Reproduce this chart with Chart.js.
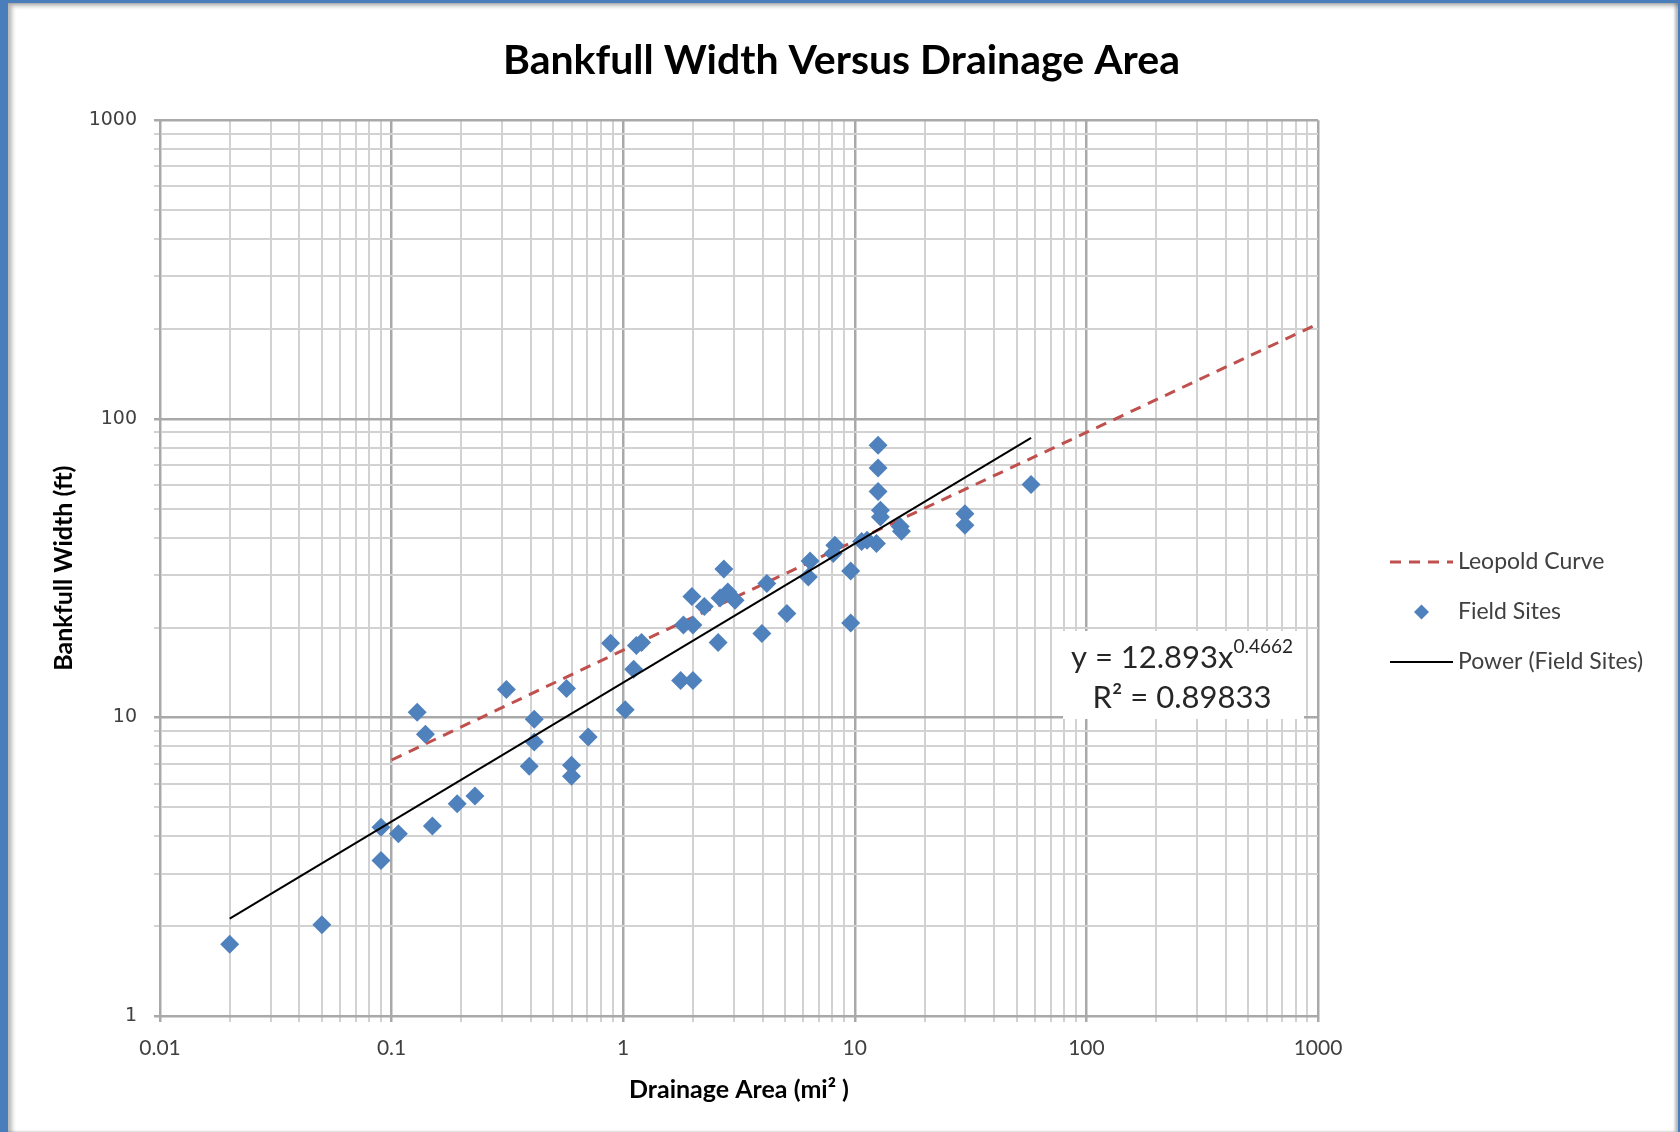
<!DOCTYPE html>
<html>
<head>
<meta charset="utf-8">
<title>Bankfull Width Versus Drainage Area</title>
<script src="https://cdn.jsdelivr.net/npm/chart.js@4.4.1/dist/chart.umd.min.js"></script>
<style>
  html, body { margin: 0; padding: 0; }
  body { width: 1680px; height: 1132px; background: #4a7ebb; position: relative; overflow: hidden; }
  .panel {
    position: absolute; left: 8px; top: 3px; width: 1670px; height: 1129px; background: #fff;
    box-shadow: inset 4px 3px 4px rgba(0, 0, 0, 0.28), inset -3px 0 3px rgba(0, 0, 0, 0.28);
  }
  .chart-box { position: absolute; left: 8px; top: 4px; width: 1667px; height: 1128px; }
</style>
</head>
<body>
<div class="panel"></div>
<div class="chart-box"><canvas id="bankfullChart"></canvas></div>
<script>
const xTickLabels = ['0.01', '0.1', '1', '10', '100', '1000'];
const yTickLabels = ['1', '10', '100', '1000'];

// field sites, drainage area (mi2) and bankfull width (ft)
const fieldArea = [0.02, 0.05, 0.09, 0.09, 0.107, 0.129, 0.14, 0.15, 0.192, 0.229,
    0.313, 0.413, 0.413, 0.393, 0.569, 0.598, 0.598, 0.706, 0.882, 1.02,
    1.11, 1.14, 1.2, 1.77, 2.0, 1.82, 2.0, 1.98, 2.24, 2.57,
    2.72, 2.62, 2.83, 3.04, 3.97, 4.17, 5.09, 6.3, 6.41, 8.07,
    8.2, 9.6, 9.6, 10.7, 11.3, 12.4, 12.6, 12.6, 12.6, 12.9,
    12.9, 15.7, 15.9, 29.9, 29.9, 57.7];
const fieldWidth = [1.74, 2.02, 4.29, 3.32, 4.08, 10.4, 8.78, 4.33, 5.14, 5.45,
    12.4, 9.85, 8.27, 6.86, 12.5, 6.91, 6.35, 8.6, 17.7, 10.6,
    14.5, 17.4, 17.8, 13.3, 13.3, 20.4, 20.4, 25.4, 23.5, 17.8,
    31.4, 25.1, 26.3, 24.7, 19.1, 28.1, 22.3, 29.5, 33.4, 35.4,
    37.7, 30.9, 20.7, 38.8, 39.2, 38.2, 81.5, 68.4, 57.1, 49.4,
    46.9, 43.6, 42.0, 48.1, 44.0, 60.2];

const leopoldArea = [0.1, 1, 10, 100, 1000];
const leopoldWidth = [7.2, 16.8, 39, 90, 208];

const powerArea = [0.02, 57.7];
const powerWidth = [2.12, 86.3];

const equationMain = 'y = 12.893x';
const equationExp = '0.4662';
const rSquaredText = 'R² = 0.89833';

const xMajor = xTickLabels.map(Number);
const yMajor = yTickLabels.map(Number);

function logTicks(majors) {
    const values = [];
    for (let i = 0; i < majors.length - 1; i++) {
        for (let m = 1; m < 10; m++) {
            values.push(Number((majors[i] * m).toPrecision(6)));
        }
    }
    values.push(majors[majors.length - 1]);
    return values;
}

function toPoints(xs, ys) {
    return xs.map((x, i) => ({ x: x, y: ys[i] }));
}

const majorGrid = '#a9a9a9';
const minorGrid = '#d2d2d2';

// legend drawn at the right, like the Excel one
const sideLegend = {
    id: 'sideLegend',
    afterDraw(chart, args, opts) {
        const ctx = chart.ctx;
        ctx.save();
        ctx.font = opts.font;
        ctx.textBaseline = 'middle';
        chart.data.datasets.forEach((ds, i) => {
            const y = opts.top + i * opts.rowGap;
            const x = opts.left;
            if (ds.showLine) {
                ctx.strokeStyle = ds.borderColor;
                ctx.lineWidth = ds.borderWidth;
                ctx.setLineDash(ds.borderDash || []);
                ctx.beginPath();
                ctx.moveTo(x, y);
                ctx.lineTo(x + opts.sampleWidth, y);
                ctx.stroke();
                ctx.setLineDash([]);
            } else {
                ctx.fillStyle = ds.backgroundColor;
                Chart.helpers.drawPoint(ctx, { pointStyle: 'rectRot', radius: opts.markerRadius, borderWidth: 0 },
                    x + opts.sampleWidth / 2, y);
            }
            ctx.fillStyle = opts.color;
            ctx.fillText(ds.label, x + opts.sampleWidth + 5, y);
        });
        ctx.restore();
    }
};

// trendline equation label
const equationLabel = {
    id: 'equationLabel',
    afterDraw(chart, args, opts) {
        const ctx = chart.ctx;
        ctx.save();
        ctx.fillStyle = '#ffffff';
        ctx.fillRect(opts.left, opts.top, opts.width, opts.height);
        ctx.fillStyle = opts.color;
        ctx.textBaseline = 'middle';
        ctx.textAlign = 'left';
        ctx.font = opts.font;
        const w1 = ctx.measureText(equationMain).width;
        ctx.font = opts.supFont;
        const w2 = ctx.measureText(equationExp).width;
        let x = opts.centerX - (w1 + w2) / 2;
        ctx.font = opts.font;
        ctx.fillText(equationMain, x, opts.line1);
        ctx.font = opts.supFont;
        ctx.fillText(equationExp, x + w1, opts.line1 - 11);
        ctx.font = opts.font;
        ctx.textAlign = 'center';
        ctx.fillText(rSquaredText, opts.centerX, opts.line2);
        ctx.restore();
    }
};

const ctx = document.getElementById('bankfullChart').getContext('2d');

const data = {
    datasets: [{
        label: 'Leopold Curve',
        data: toPoints(leopoldArea, leopoldWidth),
        showLine: true,
        borderColor: '#c0504d',
        backgroundColor: '#c0504d',
        borderWidth: 3,
        borderDash: [11, 8],
        pointRadius: 0,
        order: 2
    },
    {
        label: 'Field Sites',
        data: toPoints(fieldArea, fieldWidth),
        showLine: false,
        backgroundColor: '#4f81bd',
        borderColor: '#4f81bd',
        pointStyle: 'rectRot',
        pointRadius: 9.5,
        pointBorderWidth: 0,
        order: 1
    },
    {
        label: 'Power (Field Sites)',
        data: toPoints(powerArea, powerWidth),
        showLine: true,
        borderColor: '#000000',
        backgroundColor: '#000000',
        borderWidth: 2,
        pointRadius: 0,
        order: 0
    }]
};

const chart = new Chart(ctx, {
    type: 'scatter',
    data: data,
    plugins: [sideLegend, equationLabel],
    options: {
        responsive: true,
        maintainAspectRatio: false,
        animation: false,
        layout: {
            padding: 0
        },
        plugins: {
            legend: { display: false },
            tooltip: { enabled: false },
            title: {
                display: true,
                text: 'Bankfull Width Versus Drainage Area',
                color: '#000000',
                font: { family: 'Lato', size: 41, weight: 'bold' },
                padding: { top: 32, bottom: 35 }
            },
            sideLegend: {
                left: 1382, top: 558, rowGap: 50, sampleWidth: 63, markerRadius: 7.5,
                font: '23px Lato', color: '#404040'
            },
            equationLabel: {
                left: 1055, top: 627, width: 241, height: 88, centerX: 1174, line1: 654, line2: 694,
                font: '31px Lato', supFont: '19px Lato', color: '#262626'
            }
        },
        scales: {
            x: {
                type: 'logarithmic',
                position: 'bottom',
                min: 0.01,
                max: 1000,
                afterBuildTicks: (scale) => {
                    scale.ticks = logTicks(xMajor).map(v => ({ value: v }));
                },
                afterFit: (scale) => { scale.height = 116; },
                ticks: {
                    autoSkip: false,
                    maxRotation: 0,
                    padding: 14,
                    color: '#404040',
                    font: { family: 'Lato', size: 21 },
                    callback: (value) => {
                        const i = xMajor.indexOf(value);
                        return i >= 0 ? xTickLabels[i] : '';
                    }
                },
                grid: {
                    color: (c) => c.tick && xMajor.includes(c.tick.value) ? majorGrid : minorGrid,
                    lineWidth: (c) => c.tick && xMajor.includes(c.tick.value) ? 2.5 : 2,
                    tickLength: 6
                },
                border: { color: majorGrid, width: 2 },
                title: {
                    display: true,
                    text: 'Drainage Area (mi² )',
                    color: '#000000',
                    font: { family: 'Lato', size: 25, weight: 'bold' },
                    padding: { top: 0, bottom: 27 }
                }
            },
            y: {
                type: 'logarithmic',
                position: 'left',
                min: 1,
                max: 1000,
                afterBuildTicks: (scale) => {
                    scale.ticks = logTicks(yMajor).map(v => ({ value: v }));
                },
                afterFit: (scale) => { scale.width = 152; },
                ticks: {
                    autoSkip: false,
                    padding: 17,
                    color: '#404040',
                    font: { family: 'DejaVu Sans', size: 19 },
                    callback: (value) => {
                        const i = yMajor.indexOf(value);
                        return i >= 0 ? yTickLabels[i] : '';
                    }
                },
                grid: {
                    color: (c) => c.tick && yMajor.includes(c.tick.value) ? majorGrid : minorGrid,
                    lineWidth: (c) => c.tick && yMajor.includes(c.tick.value) ? 2.5 : 2,
                    tickLength: 6
                },
                border: { color: majorGrid, width: 2 },
                title: {
                    display: true,
                    text: 'Bankfull Width (ft)',
                    color: '#000000',
                    font: { family: 'Lato', size: 25, weight: 'bold' },
                    padding: { top: 41, bottom: 0 }
                }
            },
            // empty right-hand axis that keeps room for the legend
            legendSpace: {
                type: 'logarithmic',
                position: 'right',
                min: 1,
                max: 1000,
                afterFit: (scale) => { scale.width = 357; },
                ticks: { display: false },
                grid: { display: false },
                border: { display: false }
            }
        }
    }
});
</script>
</body>
</html>
